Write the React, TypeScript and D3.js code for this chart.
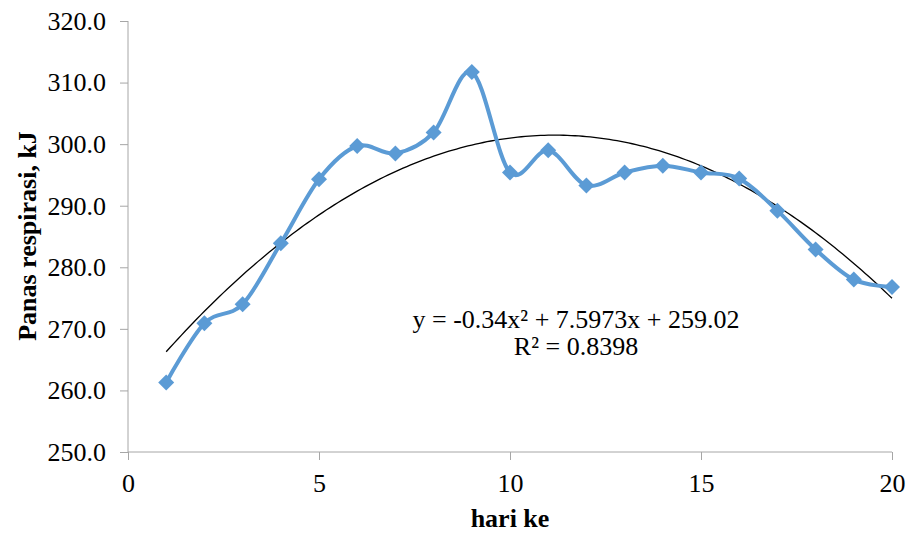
import React, { useEffect, useRef } from 'react';
import * as d3 from 'd3';

// day number and respiration heat (kJ)
const days = [1, 2, 3, 4, 5, 6, 7, 8, 9, 10, 11, 12, 13, 14, 15, 16, 17, 18, 19, 20];
const heat = [261.3, 270.9, 274.0, 283.9, 294.3, 299.7, 298.5, 301.9, 311.7, 295.4,
  299.0, 293.3, 295.4, 296.5, 295.4, 294.4, 289.2, 282.9, 278.0, 276.8];

// polynomial trendline coefficients (a x^2 + b x + c)
const trendCoef = [-0.34, 7.5973, 259.02];
const equationLines = ['y = -0.34x\u00B2 + 7.5973x + 259.02', 'R\u00B2 = 0.8398'];

const yTicks = [250, 260, 270, 280, 290, 300, 310, 320];
const xTicks = [0, 5, 10, 15, 20];

const W = 908;
const H = 537;

const App = () => {
  const svgRef = useRef<SVGSVGElement | null>(null);

  useEffect(() => {
    const svg = d3.select(svgRef.current);
    svg.selectAll('*').remove();

    const margin = { top: 21, right: 16, bottom: 85, left: 128 };
    const width = W - margin.left - margin.right;
    const height = H - margin.top - margin.bottom;
    const font = '"Liberation Serif", "Times New Roman", serif';
    const axisColor = '#a6a6a6';

    const g = svg.append('g').attr('transform', `translate(${margin.left},${margin.top})`);

    const x = d3.scaleLinear().domain([0, 20]).range([0, width]);
    const y = d3.scaleLinear().domain([250, 320]).range([height, 0]);

    // Y axis
    const yAxis = g.append('g')
      .call(d3.axisLeft(y).tickValues(yTicks).tickSize(8).tickPadding(14).tickFormat(d3.format('.1f')));
    yAxis.selectAll('line').attr('stroke', axisColor);
    yAxis.select('.domain').attr('stroke', axisColor).attr('d', `M0,${height}V0`);
    yAxis.selectAll('text').style('font-family', font).style('font-size', '26px').attr('fill', '#000');

    // X axis
    const xAxis = g.append('g')
      .attr('transform', `translate(0,${height})`)
      .call(d3.axisBottom(x).tickValues(xTicks).tickSize(8).tickPadding(14).tickFormat(d3.format('d')));
    xAxis.selectAll('line').attr('stroke', axisColor);
    xAxis.select('.domain').attr('stroke', axisColor).attr('d', `M0,0H${width}`);
    xAxis.selectAll('text').style('font-family', font).style('font-size', '26px').attr('fill', '#000');

    // Trendline
    const poly = (t: number) => trendCoef[0] * t * t + trendCoef[1] * t + trendCoef[2];
    const trendPts = d3.range(1, 20.001, 0.1).map(t => [t, poly(t)] as [number, number]);
    g.append('path')
      .datum(trendPts)
      .attr('fill', 'none')
      .attr('stroke', '#000')
      .attr('stroke-width', 1.3)
      .attr('d', d3.line<[number, number]>().x(d => x(d[0])).y(d => y(d[1])));

    // Smoothed data line
    const pts = days.map((dd, i) => [dd, heat[i]] as [number, number]);
    g.append('path')
      .datum(pts)
      .attr('fill', 'none')
      .attr('stroke', '#5b9bd5')
      .attr('stroke-width', 4)
      .attr('stroke-linejoin', 'round')
      .attr('d', d3.line<[number, number]>().x(d => x(d[0])).y(d => y(d[1])).curve(d3.curveCardinal.tension(0)));

    // Diamond markers
    const r = 8;
    g.selectAll('.marker')
      .data(pts)
      .enter()
      .append('path')
      .attr('class', 'marker')
      .attr('fill', '#5b9bd5')
      .attr('d', d => {
        const cx = x(d[0]);
        const cy = y(d[1]);
        return `M${cx},${cy - r}L${cx + r},${cy}L${cx},${cy + r}L${cx - r},${cy}Z`;
      });

    // Equation label
    const eq = g.append('text')
      .attr('text-anchor', 'middle')
      .style('font-family', font)
      .style('font-size', '26px')
      .attr('fill', '#000');
    equationLines.forEach((line, i) => {
      eq.append('tspan')
        .attr('x', 576 - margin.left)
        .attr('y', 328 - margin.top + i * 27)
        .text(line);
    });

    // Axis titles
    svg.append('text')
      .attr('transform', `translate(36,${236}) rotate(-90)`)
      .attr('text-anchor', 'middle')
      .style('font-family', font)
      .style('font-size', '26px')
      .style('font-weight', 'bold')
      .text('Panas respirasi, kJ');

    svg.append('text')
      .attr('x', 510)
      .attr('y', 527)
      .attr('text-anchor', 'middle')
      .style('font-family', font)
      .style('font-size', '26px')
      .style('font-weight', 'bold')
      .text('hari ke');
  }, []);

  return (
    <svg ref={svgRef} width={W} height={H} style={{ position: 'absolute', left: 0, top: 0, background: '#fff' }} />
  );
};

export default App;
